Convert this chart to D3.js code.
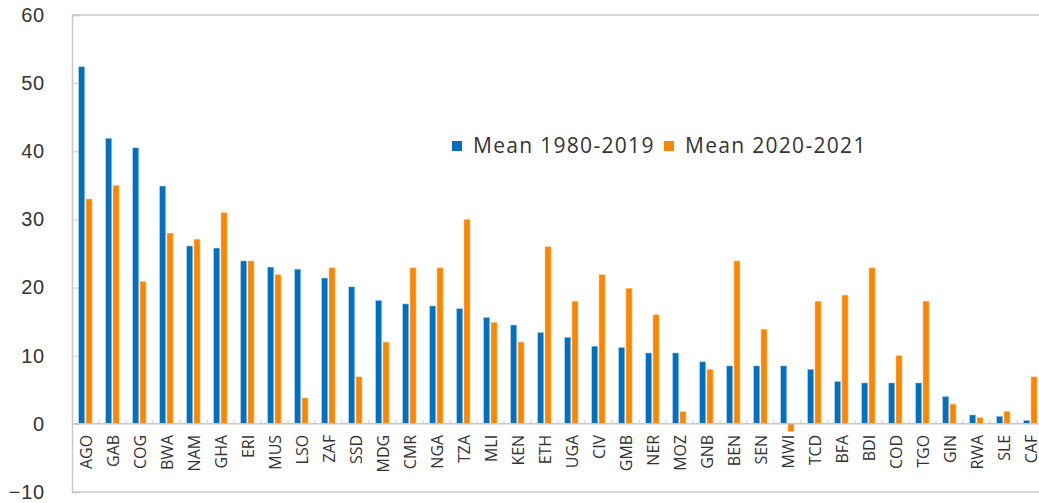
<!DOCTYPE html>
<html>
<head>
<meta charset="utf-8">
<script src="https://cdn.jsdelivr.net/npm/d3@7"></script>
<style>
  body { margin: 0; background: #fff; }
  svg { display: block; font-family: "Open Sans", "Noto Sans", sans-serif; }
</style>
</head>
<body>
<div id="chart"></div>
<script>
var countries = ["AGO","GAB","COG","BWA","NAM","GHA","ERI","MUS","LSO","ZAF","SSD","MDG","CMR","NGA","TZA","MLI","KEN","ETH","UGA","CIV","GMB","NER","MOZ","GNB","BEN","SEN","MWI","TCD","BFA","BDI","COD","TGO","GIN","RWA","SLE","CAF"];
var mean8019 = [52.4,41.9,40.5,34.9,26.1,25.8,23.9,23.0,22.7,21.4,20.1,18.1,17.6,17.3,16.9,15.6,14.5,13.4,12.7,11.4,11.2,10.4,10.4,9.1,8.5,8.5,8.5,8.0,6.2,6.0,6.0,6.0,4.0,1.3,1.1,0.5];
var mean2021 = [33.0,35.0,20.9,28.0,27.1,31.0,23.9,21.9,3.8,22.9,6.9,12.0,22.9,22.9,30.0,14.9,12.0,26.0,18.0,21.9,19.9,16.0,1.8,8.0,23.9,13.9,-1.1,18.0,18.9,22.9,10.0,18.0,2.9,0.9,1.8,6.9];
var seriesNames = ["Mean 1980-2019", "Mean 2020-2021"];
var colors = ["#0070c0", "#ff8500"];
var yTicks = [-10, 0, 10, 20, 30, 40, 50, 60];

var width = 1039, height = 503;
var marginL = 72, topY = 15, bottomY = 492;
var step = 27.0;
var rightX = marginL + countries.length * step;

var svg = d3.select("#chart").append("svg")
    .attr("width", width)
    .attr("height", height);

var x0 = d3.scaleBand().domain(countries).range([marginL, rightX]).padding(0);
var x1 = d3.scaleBand().domain([0, 1]).range([6.7, 20]).paddingInner(0.18);
var y = d3.scaleLinear().domain([-10, 60]).range([bottomY, topY]);

// frame
svg.append("line").attr("x1", marginL).attr("x2", width).attr("y1", topY).attr("y2", topY)
    .attr("stroke", "#c8c8c8").attr("stroke-width", 1.5);
svg.append("line").attr("x1", marginL).attr("x2", width).attr("y1", bottomY).attr("y2", bottomY)
    .attr("stroke", "#c8c8c8").attr("stroke-width", 1.5);

// y axis
var yAxis = svg.append("g").attr("transform", "translate(" + marginL + ",0)")
    .call(d3.axisLeft(y).tickValues(yTicks).tickSize(-8).tickPadding(27));
yAxis.select(".domain").attr("stroke", "#c8c8c8").attr("stroke-width", 1.5);
yAxis.selectAll(".tick line").attr("stroke", "#c8c8c8");
yAxis.selectAll("text").attr("fill", "#333").style("font-size", "20px").style("letter-spacing", "0.8px");

// bars
var groups = svg.append("g").selectAll("g").data(countries).join("g")
    .attr("transform", function(d){ return "translate(" + x0(d) + ",0)"; });

groups.selectAll("rect").data(function(d, i){ return [mean8019[i], mean2021[i]]; }).join("rect")
    .attr("x", function(d, j){ return x1(j); })
    .attr("width", x1.bandwidth())
    .attr("y", function(d){ return y(Math.max(0, d)); })
    .attr("height", function(d){ return Math.abs(y(d) - y(0)); })
    .attr("fill", function(d, j){ return colors[j]; })
    .attr("stroke", function(d, j){ return j == 0 ? "#9cc8ea" : "#ffc98f"; })
    .attr("stroke-width", 0.5);

// x axis at zero
var xAxis = svg.append("g").attr("transform", "translate(0," + y(0) + ")");
xAxis.append("line").attr("x1", marginL).attr("x2", width).attr("y1", 0).attr("y2", 0)
    .attr("stroke", "#c8c8c8").attr("stroke-width", 1.5);
xAxis.selectAll(".tk").data(countries.slice(1)).join("line")
    .attr("class", "tk")
    .attr("x1", function(d){ return x0(d); }).attr("x2", function(d){ return x0(d); })
    .attr("y1", -4).attr("y2", 0)
    .attr("stroke", "#c8c8c8");
xAxis.selectAll("text").data(countries).join("text")
    .attr("transform", function(d){ return "translate(" + (x0(d) + x0.bandwidth() / 2 + 6) + ",11) rotate(-90)"; })
    .attr("text-anchor", "end")
    .attr("fill", "#333")
    .style("font-size", "16px")
    .text(function(d){ return d; });

// legend
var legend = svg.append("g").attr("transform", "translate(452,141)");
var lx = [0, 212];
seriesNames.forEach(function(name, i){
    legend.append("rect").attr("x", lx[i]).attr("y", 0).attr("width", 10).attr("height", 10)
        .attr("fill", colors[i]);
    legend.append("text").attr("x", lx[i] + 21).attr("y", 12)
        .attr("fill", "#333").style("font-size", "21px").style("letter-spacing", "1.3px").text(name);
});
</script>
</body>
</html>
